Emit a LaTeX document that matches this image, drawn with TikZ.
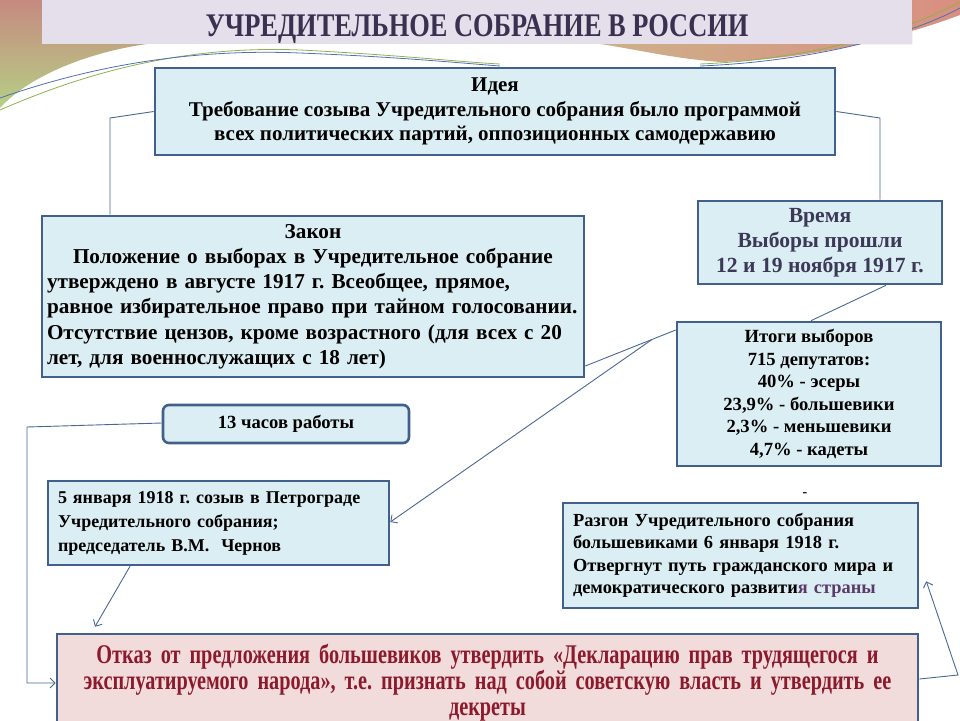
\documentclass[tikz,border=0pt]{standalone}
\usepackage{fontspec}
\setmainfont{Liberation Serif}
\newfontfamily\condfont[FakeStretch=0.8]{Liberation Serif}
\newfontfamily\condfontb[FakeStretch=0.75]{Liberation Serif}
\usetikzlibrary{arrows.meta}
\definecolor{boxfill}{HTML}{DBEEF3}
\definecolor{boxline}{HTML}{41618C}
\definecolor{pinkfill}{HTML}{F2DCDB}
\definecolor{darkred}{HTML}{8C1A2C}
\definecolor{lineblue}{HTML}{4A6894}
\definecolor{titlebg}{HTML}{E5DFEC}
\definecolor{titletext}{HTML}{3A3050}
\definecolor{timetext}{HTML}{3C3858}
\definecolor{stranytext}{HTML}{5A3A6A}
\definecolor{decorose}{HTML}{C68A80}
\definecolor{decogreen}{HTML}{B5CF85}
\definecolor{decotan}{HTML}{CDB08A}
\definecolor{decosalmon}{HTML}{D98F80}
\definecolor{decoline1}{HTML}{8DB050}
\definecolor{decoline2}{HTML}{5070B0}
\frenchspacing
\begin{document}
\begin{tikzpicture}[x=1pt,y=-1pt,
  box/.style={draw=boxline, line width=2.6pt, fill=boxfill, inner sep=0pt},
  conn/.style={draw=lineblue, line width=0.9pt},
  arr/.style={conn, -{Straight Barb[length=5pt,width=10pt]}}]
\useasboundingbox (0,0) rectangle (960,720);
\clip (0,0) rectangle (960,720);
% decoration
\shade[top color=decorose, bottom color=decogreen] (0,0) -- (42,0) -- (42,44) -- (147,44) .. controls (90,52) and (30,75) .. (0,108) -- cycle;
\shade[left color=decotan, right color=decosalmon] (600,44) -- (912,44) -- (912,0) -- (960,0) -- (960,15) .. controls (880,45) and (790,60) .. (720,62) .. controls (670,58) and (640,50) .. (600,44) -- cycle;
\draw[decoline1, line width=0.8pt] (0,110) .. controls (80,75) and (180,45) .. (300,50) .. controls (400,55) and (460,62) .. (500,64);
\draw[decoline2, line width=0.8pt] (0,98) .. controls (80,70) and (180,48) .. (300,53) .. controls (400,57) and (460,63) .. (500,66);
\draw[decoline1, line width=0.8pt] (700,64) .. controls (800,60) and (900,35) .. (960,2);
\draw[decoline2, line width=0.8pt] (700,66) .. controls (800,62) and (900,40) .. (960,8);
\fill[titlebg] (42,0) rectangle (912,44);
\node[font=\condfont\bfseries\fontsize{33}{33}\selectfont, text=titletext] (title) at (477,29) {УЧРЕДИТЕЛЬНОЕ СОБРАНИЕ В РОССИИ};
% boxes
\node[box, minimum width=680, minimum height=87, align=center, font=\bfseries\fontsize{21}{24.5}\selectfont] (idea) at (495,111.5)
 {Идея\\Требование созыва Учредительного собрания было программой\\всех политических партий, оппозиционных самодержавию};
\node[box, minimum width=542, minimum height=161, text width=532, align=left, font=\bfseries\fontsize{21.2}{25.2}\selectfont] (zakon) at (313,296.5)
 {\makebox[532pt][c]{Закон}\\\mbox{\hspace*{26pt}Положение о выборах в Учредительное  собрание}\\\mbox{утверждено в августе 1917 г. Всеобщее, прямое,}\\\mbox{равное избирательное право при тайном голосовании.}\\\mbox{Отсутствие цензов, кроме возрастного (для всех с 20}\\\mbox{лет, для военнослужащих с 18 лет)}};
\node[box, minimum width=244, minimum height=83, align=center, text=timetext, font=\bfseries\fontsize{21.6}{25}\selectfont] (vremya) at (820,242.5)
 {Время\\Выборы прошли\\12 и 19 ноября 1917 г.};
\node[box, minimum width=264, minimum height=144, align=center, font=\bfseries\fontsize{18.6}{22.5}\selectfont] (itogi) at (809,394)
 {Итоги выборов\\715 депутатов:\\40\% - эсеры\\23,9\% - большевики\\2,3\% - меньшевики\\4,7\% - кадеты};
\node[box, rounded corners=6pt, minimum width=246, minimum height=38, font=\bfseries\fontsize{18.6}{20}\selectfont] (chasy) at (286,424)
 {13 часов работы};
\node[box, minimum width=341, minimum height=84, text width=321, align=left, font=\bfseries\fontsize{18}{24}\selectfont] (yanvar) at (218.5,523)
 {5 января 1918 г. созыв в Петрограде\\Учредительного собрания;\\председатель В.М.\ \ Чернов};
\node[box, minimum width=355, minimum height=105, text width=335, align=left, font=\bfseries\fontsize{18.4}{22.5}\selectfont] (razgon) at (740.5,555.5)
 {Разгон Учредительного собрания\\большевиками 6 января 1918 г.\\Отвергнут путь гражданского мира и\\демократического развити\textcolor{stranytext}{я страны}};
\node[font=\bfseries\fontsize{14}{14}\selectfont] (dash) at (805,495) {-};
\node[box, fill=pinkfill, minimum width=861, minimum height=98, text width=850, align=center, text=darkred, font=\condfontb\bfseries\fontsize{27}{26}\selectfont] (otkaz) at (487.5,683)
 {Отказ от предложения большевиков утвердить «Декларацию прав трудящегося и\\эксплуатируемого народа», т.е. признать над собой советскую власть и утвердить ее\\декреты};
% connectors
\coordinate (c1) at (110,118);
\draw[conn] (idea.west) -- (c1) -- (c1 |- zakon.north);
\coordinate (c2) at (880,118);
\draw[conn] (idea.east) -- (c2) -- (c2 |- vremya.north);
\draw[conn] ([xshift=66pt]vremya.south) -- ([xshift=2pt]itogi.north);
\draw[conn] ([yshift=-69.5pt]zakon.east) -- coordinate[pos=0.74] (br) ([yshift=64pt]itogi.west);
\draw[arr] (br) -- ([yshift=1pt]yanvar.east);
\coordinate (c3) at (27,427);
\draw[arr] ([yshift=1pt]chasy.west) -- (c3) |- ([yshift=0pt]otkaz.west);
\draw[arr] ([xshift=-88.5pt]yanvar.south) -- ([xshift=-392.5pt,yshift=6pt]otkaz.north);
\coordinate (c4) at (958,675);
\draw[arr] ([yshift=4pt]otkaz.east) -- (c4) -- ([xshift=7pt,yshift=28pt]razgon.south east);
\end{tikzpicture}
\end{document}
